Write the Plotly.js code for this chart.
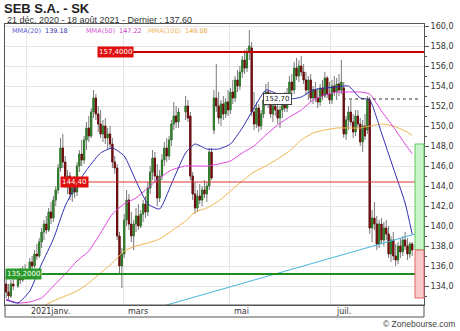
<!DOCTYPE html>
<html><head><meta charset="utf-8">
<script src="https://cdn.plot.ly/plotly-3.0.1.min.js"></script>
<style>html,body{margin:0;padding:0;background:#fff}#chart{width:460px;height:331px}</style>
</head><body><div id="chart"></div>
<script>
// ---- calendar domain ----
const firstDay = "2020-12-21";
const lastDay = "2021-08-18";
const holidays = ["2020-12-25", "2021-01-01", "2021-04-02", "2021-04-05"];

// ---- daily prices ----
const openP = [
 134.2,133.4,133.0,134.2,134.0,135.2,134.6,135.6,
 135.2,136.4,136.0,137.2,137.0,138.4,139.4,140.2,139.6,141.4,140.8,142.6,143.6,145.8,147.8,146.4,144.4,145.0,143.2,144.2,
 143.4,146.0,147.2,146.6,148.6,149.8,149.0,151.4,152.8,151.2,150.2,149.2,150.0,148.8,149.2,148.2,146.4,145.8,139.0,136.0,
 137.2,140.6,142.6,140.2,139.0,140.2,141.0,140.0,141.2,142.2,141.4,143.8,145.4,146.8,145.0,142.8,145.0,146.6,147.8,147.0,148.6,150.2,151.0,
 150.4,151.4,152.0,151.0,145.0,143.2,141.8,143.0,142.6,143.6,143.2,144.0,147.4,149.6,152.8,152.0,150.8,152.2,151.2,152.4,
 151.6,153.4,152.8,154.6,154.0,155.4,156.6,155.8,157.4,157.8,151.4,150.2,151.8,150.0,151.2,152.6,153.4,152.2,151.2,152.0,151.6,
 150.8,151.6,152.6,151.8,153.2,154.4,153.6,155.8,155.0,156.0,155.4,154.6,153.6,154.6,152.8,153.6,152.8,152.4,153.8,153.0,154.8,153.2,
 152.6,154.0,153.4,154.2,153.6,153.8,149.2,150.6,151.4,150.4,149.4,151.0,150.2,148.4,150.0,149.6,152.6,139.8,140.8,140.2,138.2,140.2,
 138.6,139.8,139.2,137.2,138.6,137.0,136.6,138.0,137.4,138.6,138.0,137.2,138.2
];
const highP = [
 135.0,134.2,134.6,134.8,135.6,135.8,136.0,136.2,
 136.8,137.0,137.6,138.2,138.8,139.8,140.6,141.0,141.8,142.4,143.0,144.0,146.2,148.8,149.2,147.0,145.6,145.4,144.6,145.0,
 146.4,147.6,148.6,149.0,150.4,151.0,151.8,153.6,153.2,152.0,151.6,150.6,150.8,149.8,150.0,148.8,147.0,146.2,139.4,137.8,
 141.2,143.6,143.2,141.4,140.6,141.8,142.2,141.6,142.6,143.0,144.4,146.0,147.6,147.4,146.2,145.6,147.2,148.4,148.8,149.0,150.6,152.4,152.0,
 151.8,153.0,152.6,151.4,145.4,144.4,143.6,144.2,144.0,144.6,144.4,147.8,147.8,153.6,156.2,153.4,152.6,153.0,152.8,153.6,
 153.8,154.6,155.0,155.6,156.0,157.0,157.6,157.8,159.6,158.4,153.4,152.4,152.2,151.6,153.0,154.2,154.4,153.4,152.6,153.2,152.4,
 152.0,153.0,153.4,153.8,155.0,155.2,156.4,156.8,156.6,157.0,156.2,155.4,155.0,155.2,154.0,154.4,153.8,154.2,154.6,155.4,155.0,154.4,
 154.6,155.0,154.8,155.2,156.6,154.4,151.0,152.0,152.6,151.2,151.6,151.6,150.8,150.6,151.2,153.0,152.9,141.6,142.4,141.0,140.6,140.8,
 140.4,140.6,140.0,139.0,139.4,138.2,138.4,138.8,139.0,139.4,138.8,138.4,138.4
];
const lowP = [
 132.8,132.6,132.8,133.6,133.8,134.2,134.4,134.8,
 134.8,135.6,135.8,136.6,136.8,137.8,138.6,139.2,139.4,140.2,140.4,142.0,143.2,145.4,145.8,143.8,143.2,142.6,142.4,142.8,
 143.0,145.4,146.0,146.2,147.6,148.4,148.8,150.8,150.6,149.4,148.8,148.4,148.2,147.6,147.8,145.8,145.2,138.6,135.2,133.8,
 136.8,140.0,139.6,138.4,137.6,139.4,139.6,139.8,140.4,140.8,141.0,143.2,144.6,144.4,142.0,142.4,144.6,146.0,146.4,146.6,148.0,149.6,149.8,
 149.8,150.6,150.4,144.6,142.6,141.2,141.4,142.2,142.0,142.8,142.4,143.6,144.6,149.2,151.4,150.2,150.0,150.6,150.8,151.0,
 151.2,152.2,152.4,153.4,153.6,154.8,155.2,155.4,156.6,151.0,149.6,149.8,149.4,149.6,150.8,152.0,151.8,150.8,150.4,151.0,150.2,
 149.8,150.8,151.4,151.4,152.6,153.0,153.2,154.6,154.4,155.0,154.2,153.2,152.6,152.4,152.2,152.4,151.8,152.0,152.6,152.8,152.8,152.2,
 152.2,153.0,152.6,153.0,153.2,148.8,148.6,149.6,150.0,148.8,149.0,149.8,148.0,147.4,148.6,149.2,139.2,138.4,139.6,137.6,137.8,138.2,
 138.0,138.6,136.8,136.4,136.6,136.0,136.2,136.8,137.0,137.6,136.6,136.8,137.0
];
const closeP = [
 133.4,133.0,134.2,134.0,135.2,134.6,135.6,135.2,
 136.4,136.0,137.2,137.0,138.4,139.4,140.2,139.6,141.4,140.8,142.6,143.6,145.8,147.8,146.4,144.4,145.0,143.2,144.2,143.4,
 146.0,147.2,146.6,148.6,149.8,149.0,151.4,152.8,151.2,150.2,149.2,150.0,148.8,149.2,148.2,146.4,145.8,139.0,136.0,137.2,
 140.6,142.6,140.2,139.0,140.2,141.0,140.0,141.2,142.2,141.4,143.8,145.4,146.8,145.0,142.8,145.0,146.6,147.8,147.0,148.6,150.2,151.0,150.4,
 151.4,152.0,150.8,145.0,143.2,141.8,143.0,142.6,143.6,143.2,144.0,147.4,144.8,152.8,152.0,150.8,152.2,151.2,152.4,151.6,
 153.4,152.8,154.6,154.0,155.4,156.6,155.8,157.4,158.0,151.4,150.2,151.8,150.0,151.2,152.6,153.4,152.2,151.2,152.0,151.6,150.8,
 151.6,152.6,151.8,153.2,154.4,153.6,155.8,155.0,156.0,155.4,154.6,153.6,154.6,152.8,153.6,152.8,152.4,153.8,153.0,154.8,153.2,152.6,
 154.0,153.4,154.2,153.6,154.4,149.2,150.6,151.4,150.4,149.4,151.0,150.2,148.4,150.0,149.0,152.6,139.8,140.8,140.2,138.2,140.2,138.6,
 139.8,139.2,137.2,138.6,137.0,136.6,138.0,137.4,138.6,138.0,137.2,138.2,137.6
];

// ---- moving averages ----
const maDates = ["2020-12-21","2020-12-28","2021-01-04","2021-01-11","2021-01-18","2021-01-25","2021-02-01","2021-02-08","2021-02-15","2021-02-22",
 "2021-03-01","2021-03-08","2021-03-15","2021-03-22","2021-03-29","2021-04-06","2021-04-12","2021-04-19","2021-04-26","2021-05-03",
 "2021-05-10","2021-05-17","2021-05-24","2021-05-31","2021-06-07","2021-06-14","2021-06-21","2021-06-28","2021-07-05","2021-07-12",
 "2021-07-19","2021-07-23","2021-07-30","2021-08-06","2021-08-13","2021-08-18"];
const mma20 = [132.6,132.3,133.5,136.2,138.7,142.0,144.2,145.9,147.3,147.8,
 147.0,144.5,142.2,141.7,144.2,147.3,148.2,147.7,147.7,148.2,
 149.8,151.8,153.6,153.2,152.7,152.9,153.6,153.8,153.9,154.0,
 152.8,152.6,149.3,145.8,142.3,139.18];
const mma50 = [132.7,132.3,132.4,132.8,134.0,135.2,136.5,137.5,139.3,141.2,
 142.2,142.8,143.8,144.8,145.6,146.0,146.0,146.0,146.2,146.5,
 147.3,148.0,149.1,150.1,150.9,151.6,152.6,153.1,153.4,153.4,
 153.4,153.2,151.5,149.9,148.2,147.22];
const mma100 = [null,null,131.2,131.9,132.5,133.0,133.5,134.3,135.3,136.3,
 137.5,138.0,138.3,138.7,139.5,140.5,141.4,141.8,142.5,143.5,
 144.5,145.4,146.0,146.7,147.5,148.6,149.3,149.6,149.8,149.8,
 149.8,150.0,150.2,150.0,149.5,149.08];

// ---- trend line, levels, targets ----
const trendDates = ["2021-03-22", "2021-08-25"];
const trendValues = [131.9, 139.45];
const levelValues = [157.4, 144.4, 135.2];
const levelLabels = ["157,4000", "144,40", "135,2000"];
const pivotValue = 152.7;
const pivotLabel = "152,70";
const targetHigh = 148.2;
const lastPrice = 137.6;
const targetLow = 132.8;

// ---- texts ----
const monthTicks = ["2021-01-01", "2021-03-01", "2021-05-03", "2021-07-01"];
const monthLabels = ["2021janv.", "mars", "mai", "juil."];
const legendNames = ["MMA(20)", "MMA(50)", "MMA(100)"];
const legendValues = ["139.18", "147.22", "149.08"];
const titleText = "SEB S.A. - SK";
const subtitleText = "21 déc. 2020 - 18 août 2021 - Dernier : 137.60";

// ---- build ----
function tradingDays() {
  const out = [];
  const d = new Date(firstDay + "T00:00:00Z");
  const end = new Date(lastDay + "T00:00:00Z");
  while (d <= end) {
    const s = d.toISOString().slice(0, 10);
    const wd = d.getUTCDay();
    if (wd !== 0 && wd !== 6 && !holidays.includes(s)) out.push(s);
    d.setUTCDate(d.getUTCDate() + 1);
  }
  return out;
}
const days = tradingDays();
if (days.length !== closeP.length || openP.length !== closeP.length || highP.length !== closeP.length || lowP.length !== closeP.length) {
  throw new Error("length mismatch days=" + days.length + " o=" + openP.length + " h=" + highP.length + " l=" + lowP.length + " c=" + closeP.length);
}
const X = days.map(s => s + " 12:00");
const MX = maDates.map(s => s + " 12:00");
const bodyHigh = openP.map((o, i) => Math.max(o, closeP[i]));
const bodyLow = openP.map((o, i) => Math.min(o, closeP[i]));

const F = "DejaVu Sans";
const colors20 = "#2f2fb0", colors50 = "#e040e0", colors100 = "#f2b24a";

const traces = [
  {type: "candlestick", x: X, open: openP, high: highP, low: lowP, close: closeP,
   increasing: {line: {color: "#7a7a7a", width: 1}, fillcolor: "#7a7a7a"},
   decreasing: {line: {color: "#7a7a7a", width: 1}, fillcolor: "#7a7a7a"},
   whiskerwidth: 0, hoverinfo: "skip", showlegend: false},
  {type: "candlestick", x: X, open: openP, high: bodyHigh, low: bodyLow, close: closeP,
   increasing: {line: {color: "#2f7a2a", width: 1}, fillcolor: "#3c8f34"},
   decreasing: {line: {color: "#6e0c0c", width: 1}, fillcolor: "#800e0e"},
   whiskerwidth: 0, hoverinfo: "skip", showlegend: false},
  {type: "scatter", mode: "lines", x: MX, y: mma100, line: {color: colors100, width: 1, shape: "spline", smoothing: 0.5}, hoverinfo: "skip", showlegend: false},
  {type: "scatter", mode: "lines", x: MX, y: mma50, line: {color: colors50, width: 1, shape: "spline", smoothing: 0.5}, hoverinfo: "skip", showlegend: false},
  {type: "scatter", mode: "lines", x: MX, y: mma20, line: {color: colors20, width: 1, shape: "spline", smoothing: 0.5}, hoverinfo: "skip", showlegend: false},
  {type: "scatter", mode: "lines", x: trendDates.map(s => s + " 12:00"), y: trendValues, line: {color: "#46b4de", width: 1}, hoverinfo: "skip", showlegend: false}
];

const plotL = 5, plotR = 424, plotT = 24, plotB = 305;
const pw = plotR - plotL, ph = plotB - plotT;
const px = (xx) => (xx - plotL) / pw;
const py = (yy) => 1 - (yy - plotT) / ph;

const levelStyle = [
  {x0: px(133), color: "#c80000", width: 2, bg: "#e01010", lx: px(97)},
  {x0: px(87), color: "#d83434", width: 1, bg: "#e01010", lx: px(60)},
  {x0: px(42), color: "#1f8c1f", width: 2, bg: "#2a9a2a", lx: px(5)}
];

const shapes = [];
const annotations = [];
levelValues.forEach((v, i) => {
  const st = levelStyle[i];
  shapes.push({type: "line", xref: "paper", yref: "y", x0: st.x0, x1: 1, y0: v, y1: v, line: {color: st.color, width: st.width}, layer: "above"});
  annotations.push({xref: "paper", yref: "y", x: st.lx, y: v, xanchor: "left", yanchor: "middle", text: levelLabels[i], showarrow: false,
    bgcolor: st.bg, borderpad: 1, font: {family: F, size: 7, color: "#ffffff"}});
});
shapes.push({type: "line", xref: "paper", yref: "y", x0: px(343), x1: px(421), y0: pivotValue, y1: pivotValue, line: {color: "#333", width: 1, dash: "dot"}, layer: "above"});
annotations.push({xref: "paper", yref: "y", x: px(263), y: pivotValue, xanchor: "left", yanchor: "middle", text: pivotLabel, showarrow: false,
  bgcolor: "#ffffff", bordercolor: "#444", borderwidth: 1, borderpad: 1, font: {family: F, size: 7, color: "#222"}});
// target boxes
shapes.push({type: "rect", xref: "paper", yref: "y", x0: px(415), x1: 1, y0: lastPrice, y1: targetHigh, fillcolor: "#c9f3c9", line: {color: "#5ec85e", width: 1}, layer: "above"});
shapes.push({type: "rect", xref: "paper", yref: "y", x0: px(415), x1: 1, y0: targetLow, y1: lastPrice, fillcolor: "#f8caca", line: {color: "#e06666", width: 1}, layer: "above"});
// x label band
shapes.push({type: "rect", xref: "paper", yref: "paper", x0: 0, x1: 1, y0: -(12 / ph), y1: 0, line: {color: "#555", width: 1}, fillcolor: "rgba(0,0,0,0)"});

monthTicks.forEach((d, i) => {
  annotations.push({xref: "x", yref: "paper", x: d, y: -(6 / ph), xanchor: "left", yanchor: "middle", xshift: 3, text: monthLabels[i], showarrow: false,
    font: {family: F, size: 8, color: "#333"}});
});

// legend row
const legPos = [[10, 43], [84, 117], [146, 183]];
const legNameCol = ["#5a5ad2", "#d656d6", "#f0b866"];
const legValCol = ["#3030a8", "#c83cc8", "#eaa844"];
legendNames.forEach((n, i) => {
  annotations.push({xref: "paper", yref: "paper", x: px(legPos[i][0]), y: py(31), xanchor: "left", yanchor: "middle", text: n, showarrow: false,
    font: {family: F, size: 6.5, color: legNameCol[i]}});
  annotations.push({xref: "paper", yref: "paper", x: px(legPos[i][1]), y: py(31), xanchor: "left", yanchor: "middle", text: legendValues[i], showarrow: false,
    font: {family: F, size: 6.5, color: legValCol[i]}});
});
// subtitle
annotations.push({xref: "paper", yref: "paper", x: px(5), y: py(19.5), xanchor: "left", yanchor: "middle", text: subtitleText, showarrow: false,
  font: {family: "Liberation Sans", size: 9, color: "#333"}});
// copyright
annotations.push({xref: "paper", yref: "paper", x: px(457), y: py(324), xanchor: "right", yanchor: "middle", text: "© Zonebourse.com", showarrow: false,
  font: {family: "Liberation Sans", size: 8.5, color: "#444"}});

const layout = {
  width: 460, height: 331,
  margin: {l: plotL, r: 460 - plotR, t: plotT, b: 331 - plotB, pad: 0},
  paper_bgcolor: "#ffffff", plot_bgcolor: "#ffffff",
  separators: ", ",
  showlegend: false,
  title: {text: "<b>" + titleText + "</b>", xref: "container", yref: "container", x: 4 / 460, xanchor: "left", y: 1 - 8.5 / 331, yanchor: "middle",
    font: {family: "Liberation Sans", size: 13, color: "#222"}},
  xaxis: {type: "date", range: ["2020-12-21 00:00", "2021-08-25 12:00"],
    rangebreaks: [{pattern: "day of week", bounds: [6, 1]}],
    tickvals: monthTicks, ticktext: monthLabels, showticklabels: false, ticks: "",
    showgrid: true, gridcolor: "#e6e6e6", gridwidth: 1,
    showline: true, linecolor: "#555", linewidth: 1, mirror: true, zeroline: false,
    rangeslider: {visible: false}, fixedrange: true},
  yaxis: {side: "right", range: [132.1, 160.2], dtick: 2, tick0: 0, tickformat: ".1f",
    ticks: "outside", ticklen: 4, tickcolor: "#555", tickfont: {family: F, size: 8, color: "#333"},
    minor: {dtick: 1, ticks: "outside", ticklen: 2, tickcolor: "#555", showgrid: false},
    showgrid: true, gridcolor: "#e6e6e6", gridwidth: 1,
    showline: true, linecolor: "#555", linewidth: 1, mirror: true, zeroline: false, fixedrange: true},
  shapes: shapes,
  annotations: annotations
};

Plotly.newPlot("chart", traces, layout, {staticPlot: true, displayModeBar: false});
</script>
</body></html>
